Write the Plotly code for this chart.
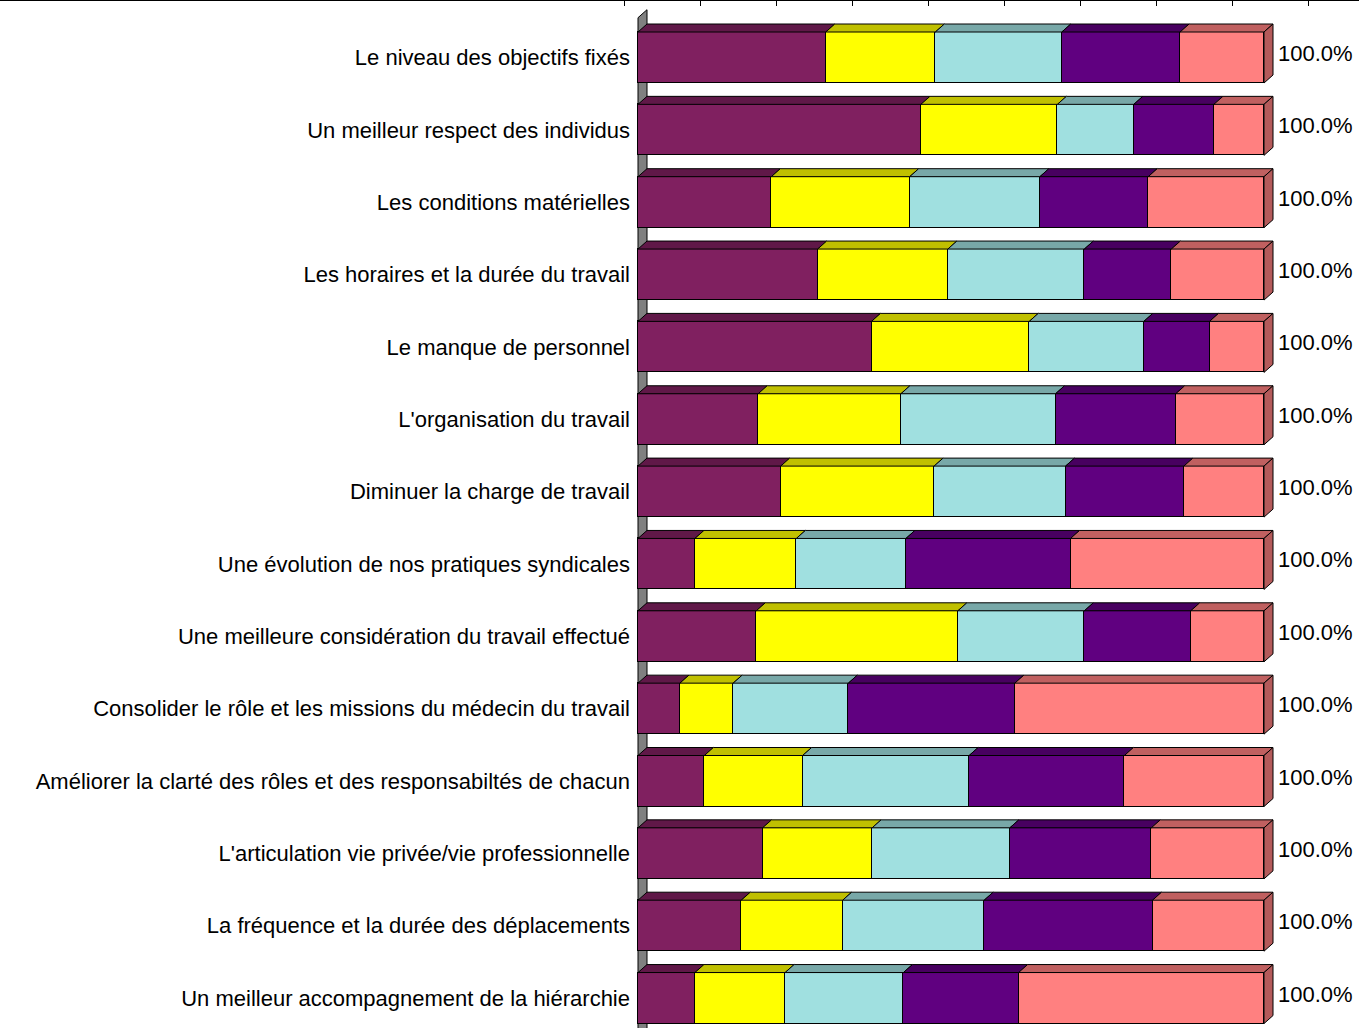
import plotly.graph_objects as go

categories = [
    "Le niveau des objectifs fixés",
    "Un meilleur respect des individus",
    "Les conditions matérielles",
    "Les horaires et la durée du travail",
    "Le manque de personnel",
    "L'organisation du travail",
    "Diminuer la charge de travail",
    "Une évolution de nos pratiques syndicales",
    "Une meilleure considération du travail effectué",
    "Consolider le rôle et les missions du médecin du travail",
    "Améliorer la clarté des rôles et des responsabiltés de chacun",
    "L'articulation vie privée/vie professionnelle",
    "La fréquence et la durée des déplacements",
    "Un meilleur accompagnement de la hiérarchie",
]

series_names = ["Réponse 1", "Réponse 2", "Réponse 3", "Réponse 4", "Réponse 5"]

s1 = [30.0, 45.2, 21.3, 28.7, 37.3, 19.2, 22.8, 9.1, 18.9, 6.7, 10.6, 19.9, 16.5, 9.1]
s2 = [17.5, 21.8, 22.1, 20.8, 25.2, 22.8, 24.5, 16.2, 32.2, 8.5, 15.7, 17.5, 16.2, 14.4]
s3 = [20.2, 12.2, 20.8, 21.8, 18.3, 24.7, 21.0, 17.5, 20.2, 18.4, 26.6, 22.0, 22.6, 18.9]
s4 = [18.9, 12.8, 17.3, 13.9, 10.5, 19.2, 18.9, 26.3, 17.0, 26.6, 24.8, 22.6, 26.9, 18.4]
s5 = [13.4, 8.0, 18.5, 14.8, 8.7, 14.1, 12.8, 30.9, 11.7, 39.8, 22.3, 18.0, 17.8, 39.2]

series = [s1, s2, s3, s4, s5]

front_colors = ["#802060", "#FFFF00", "#A0E0E0", "#600080", "#FF8080"]
top_colors = ["#601848", "#C0C000", "#78A8A8", "#480060", "#C06060"]
side_color = "#B45A5A"
wall_color = "#808080"

W, H = 1359, 1028
X0_PX = 638.0          # pixel of value 0
PX_PER_UNIT = 6.26     # pixels per percent
PITCH = 72.35          # pixels per category
FIRST_CENTER = 57.5    # pixel of first category centre
TOP_M = 1
BAR_W = 0.705
DX = 9 / PX_PER_UNIT   # 3D depth, x in data units
DY = 8 / PITCH         # 3D depth, y in category units

n = len(categories)
ypos = list(range(n))
totals = [sum(s[i] for s in series) for i in range(n)]

fig = go.Figure()

for name, vals, col in zip(series_names, series, front_colors):
    fig.add_trace(go.Bar(
        y=ypos, x=vals, name=name, orientation="h", width=BAR_W,
        marker=dict(color=col, line=dict(color="black", width=1)),
        showlegend=False, hoverinfo="x+name",
    ))

# invisible helper so the top frame axis is rendered
fig.add_trace(go.Scatter(x=[W / 2], y=[0], xaxis="x2", yaxis="y", mode="markers",
                         marker=dict(opacity=0), showlegend=False, hoverinfo="skip"))

shapes = []
# back wall on the left
y_bottom = n + 1
wall_top = -0.55
shapes.append(dict(
    type="path", xref="x", yref="y", layer="below",
    path=f"M 0,{y_bottom} L 0,{wall_top} L {DX},{wall_top - DY} L {DX},{y_bottom} Z",
    fillcolor=wall_color, line=dict(color="black", width=1),
))

for i in range(n):
    yt = i - BAR_W / 2
    yb = i + BAR_W / 2
    cum = 0.0
    for vals, tc in zip(series, top_colors):
        a = cum
        b = cum + vals[i]
        cum = b
        shapes.append(dict(
            type="path", xref="x", yref="y",
            path=f"M {a},{yt} L {a + DX},{yt - DY} L {b + DX},{yt - DY} L {b},{yt} Z",
            fillcolor=tc, line=dict(color="black", width=1),
        ))
    shapes.append(dict(
        type="path", xref="x", yref="y",
        path=f"M {cum},{yt} L {cum + DX},{yt - DY} L {cum + DX},{yb - DY} L {cum},{yb} Z",
        fillcolor=side_color, line=dict(color="black", width=1),
    ))

annotations = []
for i in range(n):
    annotations.append(dict(
        x=totals[i] + DX, y=i - DY / 2, xref="x", yref="y",
        text=f"{totals[i]:.1f}%", showarrow=False, xanchor="left", yanchor="middle",
        xshift=3, font=dict(family="Liberation Sans, Arial", size=22, color="black"),
    ))

x_lo = -X0_PX / PX_PER_UNIT
x_hi = (W - X0_PX) / PX_PER_UNIT
y_top = -(FIRST_CENTER - TOP_M) / PITCH
y_bot = (H - FIRST_CENTER) / PITCH

frame_ticks = list(range(624, W, 76))

fig.update_layout(
    width=W, height=H,
    margin=dict(l=0, r=0, t=TOP_M, b=0, pad=0),
    barmode="stack",
    bargap=0,
    paper_bgcolor="white", plot_bgcolor="white",
    font=dict(family="Liberation Sans, Arial", size=22, color="black"),
    xaxis=dict(range=[x_lo, x_hi], visible=False, fixedrange=True),
    xaxis2=dict(range=[0, W], overlaying="x", side="top", anchor="y",
                showline=True, linecolor="black", linewidth=1.5,
                ticks="inside", ticklen=5, tickcolor="black", tickwidth=1,
                tickmode="array", tickvals=frame_ticks,
                showticklabels=False, showgrid=False,
                zeroline=False, fixedrange=True),
    yaxis=dict(range=[y_bot, y_top], tickmode="array", tickvals=ypos,
               ticktext=categories, anchor="free", position=X0_PX / W,
               showgrid=False, zeroline=False, showline=False, ticks="",
               ticklabelstandoff=8, fixedrange=True,
               tickfont=dict(family="Liberation Sans, Arial", size=22, color="black")),
    shapes=shapes,
    annotations=annotations,
)

fig.write_html("out.html", config={"displayModeBar": False},
               post_script="document.body.style.margin='0';")
